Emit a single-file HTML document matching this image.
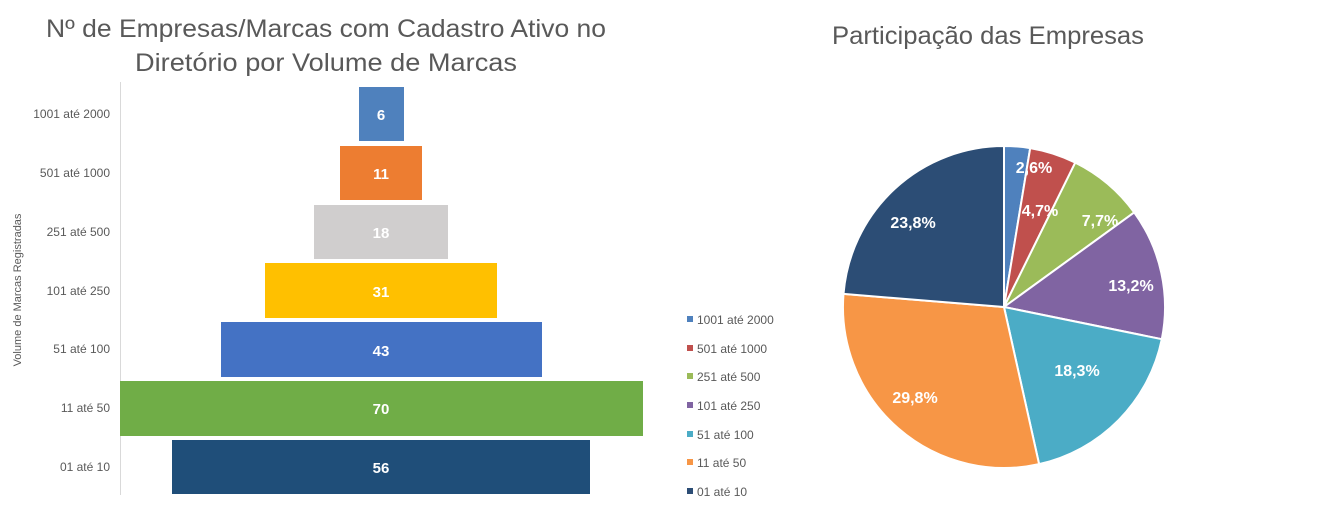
<!DOCTYPE html>
<html><head><meta charset="utf-8"><style>
body{margin:0;background:#fff;width:1341px;height:507px;overflow:hidden;font-family:"Liberation Sans",sans-serif}
</style></head><body>
<svg width="1341" height="507" viewBox="0 0 1341 507" xmlns="http://www.w3.org/2000/svg" font-family="Liberation Sans, sans-serif">
<rect width="1341" height="507" fill="#fff"/>
<g fill="#595959" font-size="25" text-anchor="middle">
<text x="326" y="37" textLength="560" lengthAdjust="spacingAndGlyphs">Nº de Empresas/Marcas com Cadastro Ativo no</text>
<text x="326" y="71" textLength="382" lengthAdjust="spacingAndGlyphs">Diretório por Volume de Marcas</text>
<text x="988" y="44" textLength="312" lengthAdjust="spacingAndGlyphs">Participação das Empresas</text>
</g>
<text transform="translate(21,290) rotate(-90)" font-size="11" fill="#595959" text-anchor="middle">Volume  de Marcas Registradas</text>
<line x1="120.5" y1="82" x2="120.5" y2="495" stroke="#d9d9d9"/>
<g font-size="12" fill="#595959" text-anchor="end">
<text x="110" y="118">1001 até 2000</text>
<text x="110" y="177">501 até 1000</text>
<text x="110" y="236">251 até 500</text>
<text x="110" y="295">101 até 250</text>
<text x="110" y="353">51 até 100</text>
<text x="110" y="412">11 até 50</text>
<text x="110" y="471">01 até 10</text>
</g>
<rect x="359" y="87" width="45" height="54" fill="#4f81bd"/>
<rect x="340" y="146" width="82" height="54" fill="#ed7d31"/>
<rect x="314" y="205" width="134" height="54" fill="#d0cece"/>
<rect x="265" y="263" width="232" height="55" fill="#ffc000"/>
<rect x="221" y="322" width="321" height="55" fill="#4472c4"/>
<rect x="120" y="381" width="523" height="55" fill="#70ad47"/>
<rect x="172" y="440" width="418" height="54" fill="#1f4e79"/>
<g font-size="15" font-weight="bold" fill="#fff" text-anchor="middle">
<text x="381" y="120">6</text>
<text x="381" y="179">11</text>
<text x="381" y="238">18</text>
<text x="381" y="297">31</text>
<text x="381" y="356">43</text>
<text x="381" y="414">70</text>
<text x="381" y="473">56</text>
</g>
<g stroke="#fff" stroke-width="2" stroke-linejoin="round">
<path d="M1004,307 L1004,146 A161,161 0 0 1 1030.2,148.1 Z" fill="#4f81bd"/>
<path d="M1004,307 L1030.2,148.1 A161,161 0 0 1 1075.3,162.6 Z" fill="#c0504d"/>
<path d="M1004,307 L1075.3,162.6 A161,161 0 0 1 1134.2,212.4 Z" fill="#9bbb59"/>
<path d="M1004,307 L1134.2,212.4 A161,161 0 0 1 1161.8,339.2 Z" fill="#8064a2"/>
<path d="M1004,307 L1161.8,339.2 A161,161 0 0 1 1039.1,464.1 Z" fill="#4bacc6"/>
<path d="M1004,307 L1039.1,464.1 A161,161 0 0 1 843.5,293.9 Z" fill="#f79646"/>
<path d="M1004,307 L843.5,293.9 A161,161 0 0 1 1004,146 Z" fill="#2c4d75"/>
</g>
<g font-size="16" font-weight="bold" fill="#fff" text-anchor="middle">
<text x="1034" y="173">2,6%</text>
<text x="1040" y="216">4,7%</text>
<text x="1100" y="226">7,7%</text>
<text x="1131" y="291">13,2%</text>
<text x="1077" y="376">18,3%</text>
<text x="915" y="403">29,8%</text>
<text x="913" y="228">23,8%</text>
</g>
<g font-size="12" fill="#595959">
<rect x="687" y="316" width="6" height="6" fill="#4f81bd"/><text x="697" y="324">1001 até 2000</text>
<rect x="687" y="345" width="6" height="6" fill="#c0504d"/><text x="697" y="353">501 até 1000</text>
<rect x="687" y="373" width="6" height="6" fill="#9bbb59"/><text x="697" y="381">251 até 500</text>
<rect x="687" y="402" width="6" height="6" fill="#8064a2"/><text x="697" y="410">101 até 250</text>
<rect x="687" y="431" width="6" height="6" fill="#4bacc6"/><text x="697" y="439">51 até 100</text>
<rect x="687" y="459" width="6" height="6" fill="#f79646"/><text x="697" y="467">11 até 50</text>
<rect x="687" y="488" width="6" height="6" fill="#2c4d75"/><text x="697" y="496">01 até 10</text>
</g>
</svg>
</body></html>
